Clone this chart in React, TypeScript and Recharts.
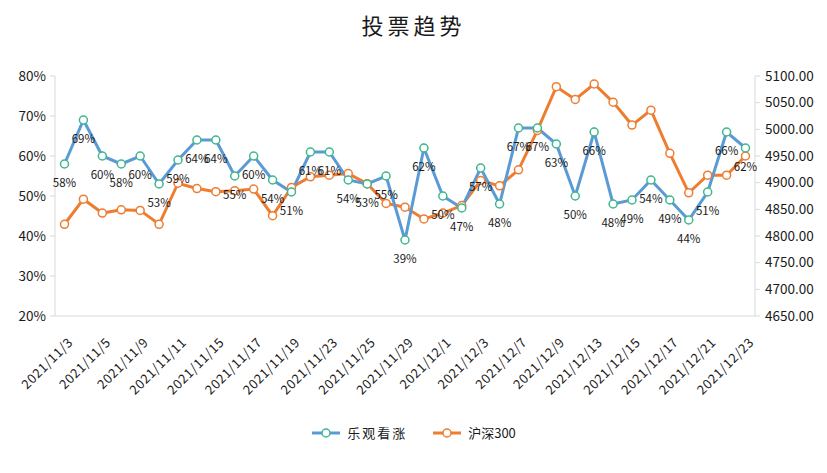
import React from 'react';
import { LineChart, Line, XAxis, YAxis, Legend, LabelList } from 'recharts';

const dates = [
  '2021/11/3', '2021/11/4', '2021/11/5', '2021/11/8', '2021/11/9', '2021/11/10', '2021/11/11', '2021/11/12',
  '2021/11/15', '2021/11/16', '2021/11/17', '2021/11/18', '2021/11/19', '2021/11/22', '2021/11/23', '2021/11/24',
  '2021/11/25', '2021/11/26', '2021/11/29', '2021/11/30', '2021/12/1', '2021/12/2', '2021/12/3', '2021/12/6',
  '2021/12/7', '2021/12/8', '2021/12/9', '2021/12/10', '2021/12/13', '2021/12/14', '2021/12/15', '2021/12/16',
  '2021/12/17', '2021/12/20', '2021/12/21', '2021/12/22', '2021/12/23',
];

const bullish = [
  58, 69, 60, 58, 60, 53, 59, 64, 64, 55, 60, 54, 51, 61, 61, 54, 53, 55, 39, 62, 50, 47, 57, 48, 67, 67, 63, 50,
  66, 48, 49, 54, 49, 44, 51, 66, 62,
];

const hs300 = [
  4822, 4869, 4843, 4849, 4848, 4822, 4899, 4889, 4883, 4885, 4888, 4838, 4891, 4911, 4914, 4917, 4898, 4861,
  4854, 4832, 4843, 4857, 4904, 4894, 4924, 4998, 5080, 5056, 5085, 5051, 5008, 5036, 4955, 4881, 4914, 4914, 4950,
];

const leftTicks = [20, 30, 40, 50, 60, 70, 80];
const rightTicks = [4650, 4700, 4750, 4800, 4850, 4900, 4950, 5000, 5050, 5100];

const seriesNames = { bullish: '乐观看涨', hs300: '沪深300' };

const data = dates.map((d, i) => ({ date: d, bullish: bullish[i], hs300: hs300[i] }));

const FONT = '"Noto Sans CJK SC", "Noto Sans", sans-serif';
const BLUE = '#5B9BD5';
const ORANGE = '#ED7D31';
const BLUE_MARK = '#3FB68E';
const AXIS = '#D9D9D9';

const XTick = (props: any) => {
  const { x, y, payload } = props;
  const tx = x + 6;
  const ty = y + 16;
  return (
    <text
      x={tx}
      y={ty}
      dy="0.35em"
      textAnchor="end"
      transform={`rotate(-45, ${tx}, ${ty})`}
      fontSize={13}
      letterSpacing={0.6}
      fontFamily={FONT}
      fill="#1a1a1a"
    >
      {payload.value}
    </text>
  );
};

const PctLabel = (props: any) => {
  const { x, y, value } = props;
  return (
    <text x={x} y={y + 23} textAnchor="middle" fontSize={11.5} fontFamily={FONT} fill="#1a1a1a">
      {`${value}%`}
    </text>
  );
};

const LegendContent = () => {
  const items = [
    { name: seriesNames.bullish, line: BLUE, mark: BLUE_MARK },
    { name: seriesNames.hs300, line: ORANGE, mark: ORANGE },
  ];
  return (
    <div style={{ display: 'flex', justifyContent: 'center', alignItems: 'center', fontFamily: FONT, fontSize: 13, color: '#1a1a1a' }}>
      {items.map((it, i) => (
        <div key={i} style={{ display: 'flex', alignItems: 'center', marginLeft: i ? 25 : 0 }}>
          <svg width={30} height={12} style={{ marginRight: 6 }}>
            <line x1={1} y1={6} x2={29} y2={6} stroke={it.line} strokeWidth={3} />
            <circle cx={15} cy={6} r={4} fill="#fff" stroke={it.mark} strokeWidth={1.5} />
          </svg>
          <span style={{ letterSpacing: i === 0 ? 2 : 0 }}>{it.name}</span>
        </div>
      ))}
    </div>
  );
};

export default function App() {
  return (
    <div style={{ position: 'absolute', left: 0, top: 0, width: 827, height: 473, background: '#fff' }}>
      <div
        style={{
          position: 'absolute',
          left: 0,
          top: 9,
          width: 827,
          textAlign: 'center',
          fontFamily: FONT,
          fontSize: 22,
          letterSpacing: 4,
          color: '#1a1a1a',
          lineHeight: '30px',
        }}
      >
        投票趋势
      </div>
      <LineChart width={827} height={473} data={data} margin={{ top: 76, right: 0, bottom: 67, left: 0 }}>
        <XAxis
          dataKey="date"
          interval={1}
          tick={<XTick />}
          tickLine={false}
          axisLine={{ stroke: AXIS }}
          height={90}
          padding={{ left: 9.5, right: 9.5 }}
        />
        <YAxis
          yAxisId="left"
          orientation="left"
          width={55}
          domain={[20, 80]}
          ticks={leftTicks}
          tickFormatter={(v: number) => `${v}%`}
          tick={{ fontSize: 13.5, fill: '#1a1a1a', fontFamily: FONT }}
          tickSize={5}
          tickMargin={4}
          tickLine={{ stroke: AXIS }}
          axisLine={{ stroke: AXIS }}
          allowDataOverflow
        />
        <YAxis
          yAxisId="right"
          orientation="right"
          width={72}
          domain={[4650, 5100]}
          ticks={rightTicks}
          tickFormatter={(v: number) => v.toFixed(2)}
          tick={{ fontSize: 13.5, fill: '#1a1a1a', fontFamily: FONT }}
          tickSize={5}
          tickMargin={5}
          tickLine={{ stroke: AXIS }}
          axisLine={{ stroke: AXIS }}
          allowDataOverflow
        />
        <Legend
          layout="horizontal"
          verticalAlign="middle"
          align="center"
          wrapperStyle={{ top: 423, left: 0, width: 827 }}
          content={<LegendContent />}
        />
        <Line
          yAxisId="right"
          dataKey="hs300"
          name={seriesNames.hs300}
          stroke={ORANGE}
          strokeWidth={3}
          dot={{ r: 4, fill: '#fff', stroke: ORANGE, strokeWidth: 1.5 }}
          isAnimationActive={false}
        />
        <Line
          yAxisId="left"
          dataKey="bullish"
          name={seriesNames.bullish}
          stroke={BLUE}
          strokeWidth={3}
          dot={{ r: 4, fill: '#fff', stroke: BLUE_MARK, strokeWidth: 1.5 }}
          isAnimationActive={false}
        >
          <LabelList dataKey="bullish" content={<PctLabel />} />
        </Line>
      </LineChart>
    </div>
  );
}
